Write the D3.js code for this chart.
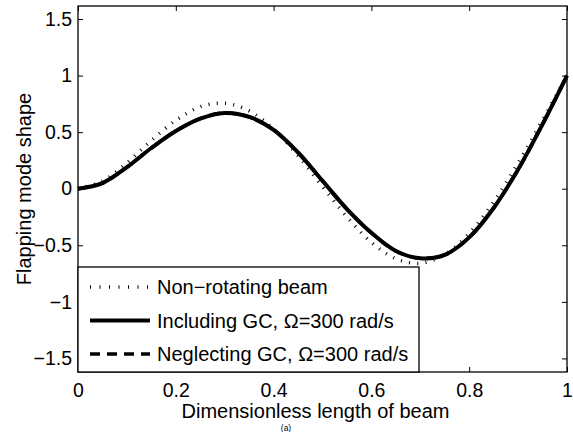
<!DOCTYPE html>
<html>
<head>
<meta charset="utf-8">
<script src="https://cdn.jsdelivr.net/npm/d3@7"></script>
<style>
  body { margin: 0; background: #fff; }
  svg { display: block; }
  text { font-family: "Liberation Sans", Arial, Helvetica, sans-serif; fill: #000; }
</style>
</head>
<body>
<div id="chart"></div>
<script>
// Positions along the beam (dimensionless)
const xs = [0, 0.05, 0.1, 0.15, 0.2, 0.25, 0.3, 0.35, 0.4, 0.45, 0.5,
            0.55, 0.6, 0.65, 0.7, 0.75, 0.8, 0.85, 0.9, 0.95, 1];

// Mode shape values
const nonRotating = [0, 0.067, 0.228, 0.425, 0.604, 0.724, 0.756, 0.688, 0.526, 0.292, 0.02,
                     -0.249, -0.474, -0.618, -0.66, -0.582, -0.395, -0.116, 0.228, 0.608, 1];
const includingGC = [0, 0.05, 0.19, 0.36, 0.51, 0.62, 0.67, 0.635, 0.52, 0.32, 0.07,
                     -0.18, -0.39, -0.55, -0.615, -0.585, -0.43, -0.17, 0.17, 0.57, 1];
const neglectingGC = [0, 0.05, 0.19, 0.36, 0.51, 0.62, 0.67, 0.635, 0.52, 0.32, 0.07,
                      -0.18, -0.39, -0.55, -0.615, -0.585, -0.43, -0.17, 0.17, 0.57, 1];

const xTicks = [0, 0.2, 0.4, 0.6, 0.8, 1];
const yTicks = [-1.5, -1, -0.5, 0, 0.5, 1, 1.5];
const legendLabels = ["Non\u2212rotating beam", "Including GC, \u03A9=300 rad/s", "Neglecting GC, \u03A9=300 rad/s"];

const width = 573, height = 432;
const margin = { left: 78, right: 6, top: 6, bottom: 60 };
const innerWidth = width - margin.left - margin.right;
const innerHeight = height - margin.top - margin.bottom;

const fmt = (v) => (v < 0 ? "\u2212" + Math.abs(v) : String(v));

const xScale = d3.scaleLinear().domain([0, 1]).range([0, innerWidth]);
const yScale = d3.scaleLinear().domain([-1.62, 1.615]).range([innerHeight, 0]);

const svg = d3.select("#chart")
  .append("svg")
  .attr("width", width)
  .attr("height", height);

const g = svg.append("g")
  .attr("transform", `translate(${margin.left},${margin.top})`);

const line = d3.line()
  .x((d) => xScale(d[0]))
  .y((d) => yScale(d[1]))
  .curve(d3.curveCatmullRom.alpha(0.5));

const pts = (vals) => xs.map((x, i) => [x, vals[i]]);

// Curves
g.append("path")
  .datum(pts(nonRotating))
  .attr("d", line)
  .attr("fill", "none")
  .attr("stroke", "#000")
  .attr("stroke-width", 3.5)
  .attr("stroke-dasharray", "1,7.3");

g.append("path")
  .datum(pts(includingGC))
  .attr("d", line)
  .attr("fill", "none")
  .attr("stroke", "#000")
  .attr("stroke-width", 4);

g.append("path")
  .datum(pts(neglectingGC))
  .attr("d", line)
  .attr("fill", "none")
  .attr("stroke", "#000")
  .attr("stroke-width", 3.5)
  .attr("stroke-dasharray", "10,7");

// Axes (ticks inward on all four sides)
const tickLen = 5;
const xAxisB = g.append("g").attr("transform", `translate(0,${innerHeight})`)
  .call(d3.axisBottom(xScale).tickValues(xTicks).tickSize(-tickLen).tickPadding(11).tickFormat(fmt));
const xAxisT = g.append("g")
  .call(d3.axisTop(xScale).tickValues(xTicks).tickSize(-tickLen).tickFormat(""));
const yAxisL = g.append("g")
  .call(d3.axisLeft(yScale).tickValues(yTicks).tickSize(-tickLen).tickPadding(6).tickFormat(fmt));
const yAxisR = g.append("g").attr("transform", `translate(${innerWidth},0)`)
  .call(d3.axisRight(yScale).tickValues(yTicks).tickSize(-tickLen).tickFormat(""));

[xAxisB, xAxisT, yAxisL, yAxisR].forEach((a) => {
  a.select(".domain").remove();
  a.selectAll("line").attr("stroke", "#000").attr("stroke-width", 1);
  a.selectAll("text").attr("font-size", 19.5).attr("font-family", "Liberation Sans, Arial, sans-serif");
});
// empty tick texts on the top/right axes are not needed
xAxisT.selectAll("text").remove();
yAxisR.selectAll("text").remove();

g.append("rect")
  .attr("x", 0).attr("y", 0)
  .attr("width", innerWidth).attr("height", innerHeight)
  .attr("fill", "none").attr("stroke", "#000").attr("stroke-width", 1.3);

// Legend
const legend = g.append("g");
legend.append("rect")
  .attr("x", 0).attr("y", 261)
  .attr("width", 341).attr("height", innerHeight - 261)
  .attr("fill", "#fff").attr("stroke", "#000").attr("stroke-width", 1.3);

const legendStyles = [
  { w: 3.5, dash: "1,8.5" },
  { w: 4, dash: null },
  { w: 3.5, dash: "10,7" }
];
legendLabels.forEach((lab, i) => {
  const cy = 281 + i * 33.5;
  legend.append("line")
    .attr("x1", 12).attr("x2", 72)
    .attr("y1", cy).attr("y2", cy)
    .attr("stroke", "#000")
    .attr("stroke-width", legendStyles[i].w)
    .attr("stroke-dasharray", legendStyles[i].dash);
  legend.append("text")
    .attr("x", 79).attr("y", cy)
    .attr("dy", "0.35em")
    .attr("font-size", 20)
    .text(lab);
});

// Axis labels
svg.append("text")
  .attr("x", margin.left + innerWidth / 2 - 7)
  .attr("y", 411)
  .attr("dy", "0.35em")
  .attr("text-anchor", "middle")
  .attr("font-size", 20)
  .text("Dimensionless length of beam");

svg.append("text")
  .attr("transform", `translate(24,${margin.top + innerHeight / 2}) rotate(-90)`)
  .attr("dy", "0.35em")
  .attr("text-anchor", "middle")
  .attr("font-size", 20)
  .text("Flapping mode shape");

svg.append("text")
  .attr("x", 286)
  .attr("y", 431)
  .attr("text-anchor", "middle")
  .attr("font-size", 8.5)
  .text("(a)");
</script>
</body>
</html>
